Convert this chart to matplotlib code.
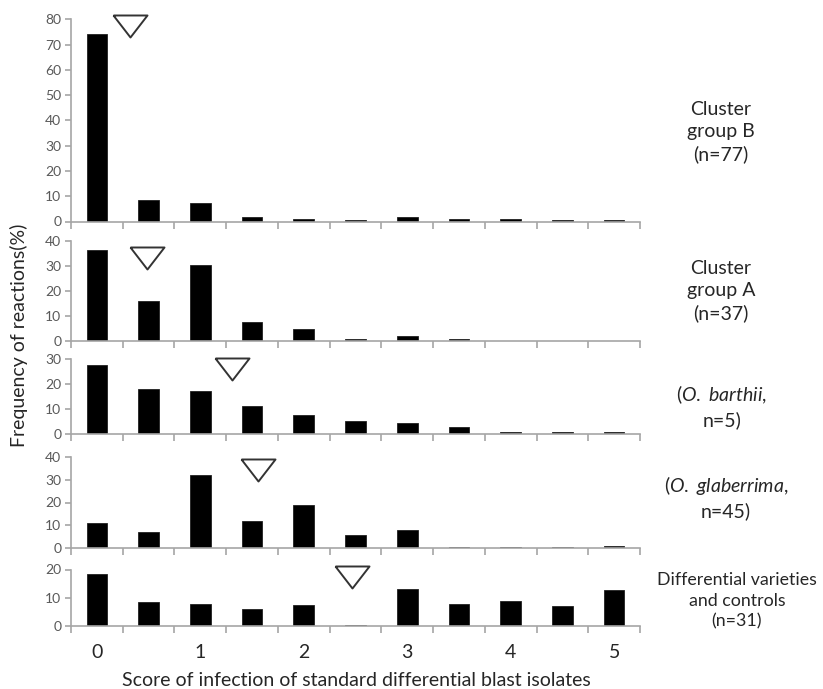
import matplotlib
matplotlib.use("Agg")
import matplotlib.pyplot as plt
import numpy as np

plt.rcParams['font.family'] = ['Lato', 'DejaVu Sans']
plt.rcParams['mathtext.fontset'] = 'custom'
plt.rcParams['mathtext.rm'] = 'Lato'
plt.rcParams['mathtext.it'] = 'Lato:italic'

# infection scores (0 to 5 in half steps)
scores = np.arange(0, 5.01, 0.5)
score_labels = ['0', '1', '2', '3', '4', '5']

# frequency of reactions (%) per group
freq_cluster_b = [74.2, 8.6, 7.5, 1.7, 1.0, 0.4, 1.7, 1.0, 1.0, 0.4, 0.4]
freq_cluster_a = [36.4, 15.8, 30.1, 7.4, 4.6, 0.8, 2.0, 0.8, 0.0, 0.0, 0.0]
freq_barthii = [27.6, 18.0, 17.3, 11.2, 7.7, 5.2, 4.7, 2.9, 1.0, 1.0, 1.0]
freq_glaberrima = [11.1, 7.0, 32.1, 11.9, 18.7, 5.7, 7.9, 0.7, 0.7, 0.4, 1.0]
freq_differential = [18.5, 8.4, 7.7, 5.9, 7.3, 0.35, 13.1, 7.8, 8.7, 7.0, 12.7]

# mean score of each group (marked by the open triangle)
mean_scores = [0.32, 0.485, 1.31, 1.56, 2.47]

group_labels = [
    "Cluster\ngroup B\n(n=77)",
    "Cluster\ngroup A\n(n=37)",
    r"($\mathit{O.\ barthii}$," + "\nn=5)",
    r"($\mathit{O.\ glaberrima}$," + "\nn=45)",
    "Differential varieties\nand controls\n(n=31)",
]
y_max = [80, 40, 30, 40, 20]

series = [freq_cluster_b, freq_cluster_a, freq_barthii, freq_glaberrima, freq_differential]

W, H = 823, 689
fig = plt.figure(figsize=(W / 100, H / 100), dpi=100)

# panel extents in pixels (top, bottom)
panel_px = [(19.3, 221.5), (240.5, 341.0), (359.3, 434.3), (456.7, 548.3), (569.5, 626.0)]
left_px, right_px = 71, 640
marker_y = [77.2, 33.1, 26.0, 34.2, 17.3]
label_pos = [(721, 131.7), (721, 291.0), (722, 405.8), (726, 497.5), (737, 601.0)]
label_size = [14, 14, 14, 14, 12.8]

axis_grey = '#A6A6A6'
tri = [(-1, 0.647), (1, 0.647), (0, -0.647), (-1, 0.647)]

for i, (vals, (top, bot)) in enumerate(zip(series, panel_px)):
    ax = fig.add_axes([left_px / W, 1 - bot / H, (right_px - left_px) / W, (bot - top) / H])
    ax.bar(scores, vals, width=0.2, color='black', edgecolor='#202020', linewidth=0.6)
    ax.set_xlim(-0.25, 5.25)
    ax.set_ylim(0, y_max[i])
    ax.set_yticks(np.arange(0, y_max[i] + 1, 10))
    for s in ('top', 'right'):
        ax.spines[s].set_visible(False)
    for s in ('left', 'bottom'):
        ax.spines[s].set_color(axis_grey)
        ax.spines[s].set_linewidth(1.2)
    ax.tick_params(axis='y', colors=axis_grey, labelcolor='#595959', labelsize=10,
                   length=4, width=1.2, pad=3)
    ax.set_xticks(np.arange(-0.25, 5.26, 0.5))
    ax.tick_params(axis='x', which='major', colors=axis_grey, length=5, width=1.2,
                   labelbottom=False)
    if i == len(series) - 1:
        ax.set_xticks(range(6), labels=score_labels, minor=True)
        ax.tick_params(axis='x', which='minor', length=0, labelsize=14,
                       labelcolor='#262626', pad=13)
    ax.plot([mean_scores[i]], [marker_y[i]], marker=tri, markersize=24.5,
            markerfacecolor='white', markeredgecolor='#333333', markeredgewidth=1.4,
            linestyle='none', clip_on=False, zorder=5)
    lx, ly = label_pos[i]
    fig.text(lx / W, 1 - ly / H, group_labels[i], ha='center', va='center',
             fontsize=label_size[i], color='#262626', linespacing=1.35)

fig.text(19 / W, 1 - 335 / H, "Frequency of reactions(%)", rotation=90,
         ha='center', va='center', fontsize=14, color='#262626')
fig.text(356 / W, 1 - 680 / H, "Score of infection of standard differential blast isolates",
         ha='center', va='center', fontsize=14, color='#262626')

fig.savefig("out.png", dpi=100)
